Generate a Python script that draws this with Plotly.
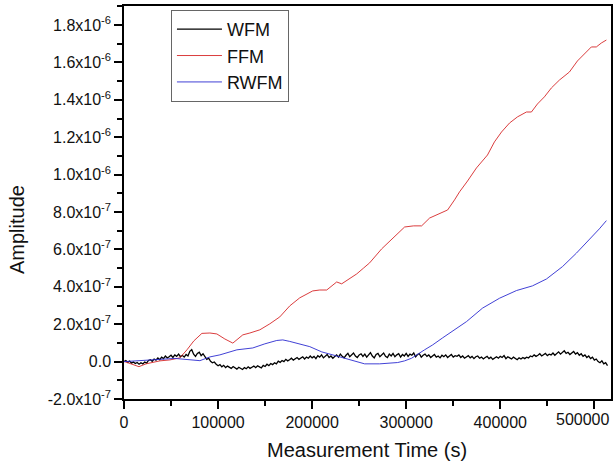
import plotly.graph_objects as go

# ---- data (amplitudes in units of 1e-7, times in seconds) ----
ffm_time = [0, 7400, 15900, 23400, 30800, 38200, 48800, 59400, 66900, 74300, 82800, 91300,
            98700, 107200, 115700, 121000, 126300, 133800, 144400, 155000, 165600, 176200,
            186800, 200600, 208100, 215500, 226100, 231400, 239900, 247400, 254800, 261100,
            273900, 282400, 290900, 298300, 307900, 316400, 324900, 335500, 344000, 351400,
            356700, 365200, 374700, 386400, 393800, 401300, 409800, 418300, 427800, 433100,
            439500, 446900, 454400, 462900, 473500, 482000, 489400, 496800, 502100, 507400, 512800]
ffm_amp = [0.01, -0.12, -0.27, -0.12, -0.02, 0.04, 0.09, 0.20, 0.63, 1.11, 1.51, 1.53,
           1.48, 1.21, 0.99, 1.21, 1.43, 1.53, 1.70, 2.02, 2.39, 2.98,
           3.41, 3.78, 3.83, 3.83, 4.26, 4.16, 4.42, 4.69, 5.01, 5.28,
           6.03, 6.45, 6.82, 7.20, 7.26, 7.26, 7.68, 7.90, 8.11, 8.65,
           9.08, 9.66, 10.36, 11.05, 11.75, 12.28, 12.76, 13.09, 13.35, 13.35,
           13.78, 14.16, 14.64, 15.06, 15.49, 16.08, 16.45, 16.83, 16.83, 17.04, 17.20]

rwfm_time = [0, 17000, 38200, 54100, 70100, 80700, 91300, 101900, 120000, 136900, 149700,
             162400, 168800, 176200, 197500, 210200, 224000, 239900, 255800, 271800, 290900,
             298300, 305700, 319500, 328000, 338700, 351400, 364100, 381100, 399200, 417200,
             434200, 449100, 466100, 480900, 494700, 505300, 512800]
rwfm_amp = [0.0, 0.04, 0.12, 0.17, 0.09, 0.05, 0.25, 0.36, 0.63, 0.73, 0.95,
            1.13, 1.16, 1.08, 0.80, 0.52, 0.33, 0.09, -0.12, -0.12, -0.05,
            0.04, 0.18, 0.63, 0.89, 1.27, 1.70, 2.14, 2.86, 3.39, 3.80,
            4.05, 4.42, 5.08, 5.80, 6.51, 7.10, 7.54]

wfm_time_ks = [0, 2, 4, 6, 8, 10, 12, 14, 16, 18,
               20, 22, 24, 26, 28, 30, 32, 34, 36, 38,
               40, 42, 44, 46, 48, 50, 52, 54, 56, 58,
               60, 62, 64, 66, 68, 70, 72, 74, 76, 78,
               80, 82, 84, 86, 88, 90, 92, 94, 96, 98,
               100, 102, 104, 106, 108, 110, 112, 114, 116, 118,
               120, 122, 124, 126, 128, 130, 132, 134, 136, 138,
               140, 142, 144, 146, 148, 150, 152, 154, 156, 158,
               160, 162, 164, 166, 168, 170, 172, 174, 176, 178,
               180, 182, 184, 186, 188, 190, 192, 194, 196, 198,
               200, 202, 204, 206, 208, 210, 212, 214, 216, 218,
               220, 222, 224, 226, 228, 230, 232, 234, 236, 238,
               240, 242, 244, 246, 248, 250, 252, 254, 256, 258,
               260, 262, 264, 266, 268, 270, 272, 274, 276, 278,
               280, 282, 284, 286, 288, 290, 292, 294, 296, 298,
               300, 302, 304, 306, 308, 310, 312, 314, 316, 318,
               320, 322, 324, 326, 328, 330, 332, 334, 336, 338,
               340, 342, 344, 346, 348, 350, 352, 354, 356, 358,
               360, 362, 364, 366, 368, 370, 372, 374, 376, 378,
               380, 382, 384, 386, 388, 390, 392, 394, 396, 398,
               400, 402, 404, 406, 408, 410, 412, 414, 416, 418,
               420, 422, 424, 426, 428, 430, 432, 434, 436, 438,
               440, 442, 444, 446, 448, 450, 452, 454, 456, 458,
               460, 462, 464, 466, 468, 470, 472, 474, 476, 478,
               480, 482, 484, 486, 488, 490, 492, 494, 496, 498,
               500, 502, 504, 506, 508, 510, 512, 514]
wfm_amp = [0.00, 0.06, -0.04, 0.03, -0.08, -0.02, -0.10, -0.05, -0.14, -0.06,
           -0.12, -0.02, -0.08, 0.06, 0.10, 0.02, 0.14, 0.08, 0.20, 0.10,
           0.24, 0.16, 0.30, 0.20, 0.26, 0.34, 0.22, 0.36, 0.28, 0.40,
           0.26, 0.34, 0.24, 0.38, 0.30, 0.55, 0.64, 0.40, 0.28, 0.44,
           0.50, 0.32, 0.42, 0.24, 0.12, 0.18, 0.02, -0.06, -0.02, -0.14,
           -0.22, -0.16, -0.28, -0.20, -0.32, -0.24, -0.30, -0.36, -0.26, -0.34,
           -0.40, -0.30, -0.36, -0.42, -0.32, -0.38, -0.28, -0.36, -0.30, -0.24,
           -0.32, -0.22, -0.28, -0.34, -0.20, -0.26, -0.14, -0.22, -0.10, -0.16,
           -0.06, -0.12, 0.02, -0.04, 0.06, 0.00, 0.12, 0.04, 0.10, 0.18,
           0.08, 0.16, 0.22, 0.12, 0.20, 0.26, 0.14, 0.24, 0.18, 0.30,
           0.20, 0.28, 0.16, 0.32, 0.24, 0.36, 0.20, 0.30, 0.38, 0.22,
           0.30, 0.18, 0.26, 0.36, 0.24, 0.40, 0.28, 0.20, 0.34, 0.44,
           0.26, 0.38, 0.46, 0.30, 0.22, 0.36, 0.42, 0.28, 0.40, 0.24,
           0.34, 0.48, 0.30, 0.20, 0.38, 0.44, 0.26, 0.36, 0.46, 0.28,
           0.22, 0.40, 0.30, 0.44, 0.26, 0.36, 0.42, 0.24, 0.38, 0.30,
           0.44, 0.28, 0.40, 0.34, 0.46, 0.26, 0.38, 0.42, 0.24, 0.34,
           0.40, 0.28, 0.36, 0.22, 0.32, 0.38, 0.24, 0.30, 0.20, 0.34,
           0.26, 0.36, 0.22, 0.30, 0.38, 0.24, 0.32, 0.28, 0.36, 0.22,
           0.30, 0.18, 0.26, 0.32, 0.20, 0.28, 0.16, 0.26, 0.30, 0.18,
           0.24, 0.14, 0.22, 0.28, 0.16, 0.24, 0.12, 0.20, 0.26, 0.18,
           0.28, 0.22, 0.32, 0.16, 0.26, 0.20, 0.14, 0.24, 0.18, 0.10,
           0.20, 0.14, 0.22, 0.16, 0.24, 0.20, 0.30, 0.26, 0.36, 0.28,
           0.34, 0.42, 0.30, 0.38, 0.44, 0.32, 0.40, 0.36, 0.46, 0.34,
           0.42, 0.52, 0.40, 0.48, 0.58, 0.44, 0.50, 0.38, 0.46, 0.54,
           0.40, 0.48, 0.34, 0.42, 0.28, 0.36, 0.22, 0.30, 0.16, 0.24,
           0.08, 0.14, 0.00, -0.06, 0.04, -0.12, -0.06, -0.22]

UNIT = 1e-7

y_tick_vals = [-2e-7, 0, 2e-7, 4e-7, 6e-7, 8e-7, 1.0e-6, 1.2e-6, 1.4e-6, 1.6e-6, 1.8e-6]
y_tick_text = ["-2.0x10<sup>-7</sup>", "0.0", "2.0x10<sup>-7</sup>", "4.0x10<sup>-7</sup>",
               "6.0x10<sup>-7</sup>", "8.0x10<sup>-7</sup>", "1.0x10<sup>-6</sup>",
               "1.2x10<sup>-6</sup>", "1.4x10<sup>-6</sup>", "1.6x10<sup>-6</sup>",
               "1.8x10<sup>-6</sup>"]
x_tick_vals = [0, 100000, 200000, 300000, 400000, 500000]
x_tick_text = ["0", "100000", "200000", "300000", "400000", ""]
x_last_label = "500000"   # drawn right-aligned at the plot edge, as in the original

FONT = "Liberation Sans, Arial, sans-serif"

fig = go.Figure()
fig.add_trace(go.Scatter(x=[t * 1000 for t in wfm_time_ks], y=[v * UNIT for v in wfm_amp],
                         mode="lines", name="WFM", line=dict(color="#000000", width=1.3)))
fig.add_trace(go.Scatter(x=ffm_time, y=[v * UNIT for v in ffm_amp], mode="lines",
                         name="FFM", line=dict(color="#d62728", width=0.9)))
fig.add_trace(go.Scatter(x=rwfm_time, y=[v * UNIT for v in rwfm_amp], mode="lines",
                         name="RWFM", line=dict(color="#2b2bd0", width=0.9)))

fig.update_layout(
    width=613, height=463,
    margin=dict(l=124, r=2, t=6, b=64, autoexpand=False),
    paper_bgcolor="white", plot_bgcolor="white",
    font=dict(family=FONT, color="#111111", size=16),
    showlegend=True,
    legend=dict(x=0.0964, y=0.99, xanchor="left", yanchor="top",
                bordercolor="#666666", borderwidth=1, bgcolor="white",
                font=dict(size=18, family=FONT, color="#111111"),
                itemwidth=45, tracegroupgap=0),
    annotations=[
        dict(text="Measurement Time (s)", xref="paper", yref="paper", x=0.499, y=-0.13,
             xanchor="center", yanchor="middle", showarrow=False,
             font=dict(size=20, family=FONT, color="#111111")),
        dict(text="Amplitude", xref="paper", yref="paper", x=-0.2197, y=0.43,
             xanchor="center", yanchor="middle", showarrow=False, textangle=-90,
             font=dict(size=20, family=FONT, color="#111111")),
        dict(text=x_last_label, xref="paper", yref="paper", x=1.0, y=-0.051,
             xanchor="right", yanchor="middle", showarrow=False,
             font=dict(size=16, family=FONT, color="#111111")),
    ],
)
fig.update_xaxes(
    range=[0, 517700], showgrid=False, zeroline=False, automargin=False,
    showline=True, linecolor="black", linewidth=1.5, mirror=True,
    ticks="outside", ticklen=8, tickwidth=1.5, tickcolor="black",
    tickvals=x_tick_vals, ticktext=x_tick_text,
    minor=dict(ticks="outside", ticklen=5, tickwidth=1.5, tickcolor="black", dtick=50000,
               tick0=0, showgrid=False),
    tickfont=dict(size=16, family=FONT, color="#111111"),
)
fig.update_yaxes(
    range=[-2e-7, 1.902e-6], showgrid=False, zeroline=False, automargin=False,
    showline=True, linecolor="black", linewidth=1.5, mirror=True,
    ticks="outside", ticklen=8, tickwidth=1.5, tickcolor="black",
    tickvals=y_tick_vals, ticktext=y_tick_text,
    minor=dict(ticks="outside", ticklen=5, tickwidth=1.5, tickcolor="black", dtick=1e-7,
               tick0=0, showgrid=False),
    tickfont=dict(size=16, family=FONT, color="#111111"),
)

fig.write_html("out.html", config={"displayModeBar": False},
               post_script="document.body.style.margin='0px';"
                           "document.body.style.overflow='hidden';")
